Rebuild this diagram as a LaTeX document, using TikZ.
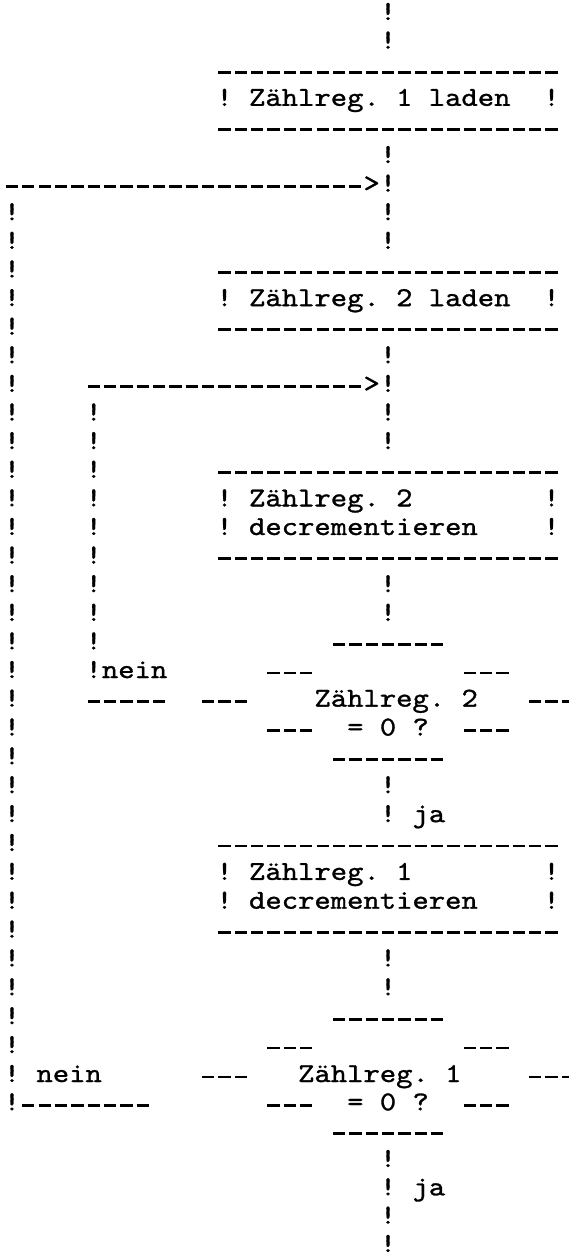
\documentclass[tikz,border=0pt]{standalone}
\usepackage{fontspec}
\newfontfamily\twfont{lmmono10-regular.otf}[FakeStretch=1.14, FakeBold=1.1]
\newlength\cw \setlength\cw{16.35pt}
\newcount\dcnt
\newcommand\dd{\makebox[\cw]{\rule[3.7pt]{12.3pt}{2.8pt}}}
\newcommand\D[1]{\dcnt=0 \loop\dd\advance\dcnt by 1 \ifnum\dcnt<#1\repeat}
% baselines of the typed rows (px from the top)
\def\RY{{20,48.61,77.22,105.83,134.44,163.05,191.66,220.27,248.88,277.49,306.10,334.71,363.32,391.93,420.54,449.15,477.76,506.37,534.98,563.59,592.20,620.81,649.42,678.03,706.64,735.51,764.38,793.25,822.12,850.99,879.86,908.73,937.60,966.47,995.34,1024.21,1053.08,1082,1110.33,1138.66,1166.99,1195.32,1223.65,1251.98}}
\newcommand\T[3]{\node[tw] (n#2x#1) at ({3.825+#1*16.35},{\RY[#2]}) {#3};}
\begin{document}
\begin{tikzpicture}[x=1pt,y=-1pt,
  tw/.style={anchor=base west, inner sep=0pt, outer sep=0pt,
    font=\twfont\fontsize{27.3pt}{28pt}\selectfont\frenchspacing}]
\fill[white] (0,0) rectangle (568,1256);
\useasboundingbox (0,0) rectangle (568,1256);
% row 0-1
\T{23}{0}{!}
\T{23}{1}{!}
% box 1
\T{13}{2}{\D{21}}
\T{13}{3}{!} \T{15}{3}{Zählreg. 1 laden} \T{33}{3}{!}
\T{13}{4}{\D{21}}
\T{23}{5}{!}
\T{0}{6}{\D{22}} \T{22}{6}{>} \T{23}{6}{!}
\T{0}{7}{!} \T{23}{7}{!}
\T{0}{8}{!} \T{23}{8}{!}
% box 2
\T{0}{9}{!} \T{13}{9}{\D{21}}
\T{0}{10}{!} \T{13}{10}{!} \T{15}{10}{Zählreg. 2 laden} \T{33}{10}{!}
\T{0}{11}{!} \T{13}{11}{\D{21}}
\T{0}{12}{!} \T{23}{12}{!}
\T{0}{13}{!} \T{5}{13}{\D{17}} \T{22}{13}{>} \T{23}{13}{!}
\T{0}{14}{!} \T{5}{14}{!} \T{23}{14}{!}
\T{0}{15}{!} \T{5}{15}{!} \T{23}{15}{!}
% box 3
\T{0}{16}{!} \T{5}{16}{!} \T{13}{16}{\D{21}}
\T{0}{17}{!} \T{5}{17}{!} \T{13}{17}{!} \T{15}{17}{Zählreg. 2} \T{33}{17}{!}
\T{0}{18}{!} \T{5}{18}{!} \T{13}{18}{!} \T{15}{18}{decrementieren} \T{33}{18}{!}
\T{0}{19}{!} \T{5}{19}{!} \T{13}{19}{\D{21}}
\T{0}{20}{!} \T{5}{20}{!} \T{23}{20}{!}
\T{0}{21}{!} \T{5}{21}{!} \T{23}{21}{!}
% decision 1
\T{0}{22}{!} \T{5}{22}{!} \T{20}{22}{\D{7}}
\T{0}{23}{!} \T{5}{23}{!nein} \T{16}{23}{\D{3}} \T{28}{23}{\D{3}}
\T{0}{24}{!} \T{5}{24}{\D{5}} \T{12}{24}{\D{3}} \T{19}{24}{Zählreg. 2} \T{32}{24}{\D{3}}
\T{0}{25}{!} \T{16}{25}{\D{3}} \T{21}{25}{= 0 ?} \T{28}{25}{\D{3}}
\T{0}{26}{!} \T{20}{26}{\D{7}}
\T{0}{27}{!} \T{23}{27}{!}
\T{0}{28}{!} \T{23}{28}{! ja}
% box 4
\T{0}{29}{!} \T{13}{29}{\D{21}}
\T{0}{30}{!} \T{13}{30}{!} \T{15}{30}{Zählreg. 1} \T{33}{30}{!}
\T{0}{31}{!} \T{13}{31}{!} \T{15}{31}{decrementieren} \T{33}{31}{!}
\T{0}{32}{!} \T{13}{32}{\D{21}}
\T{0}{33}{!} \T{23}{33}{!}
\T{0}{34}{!} \T{23}{34}{!}
% decision 2
\T{0}{35}{!} \T{20}{35}{\D{7}}
\T{0}{36}{!} \T{16}{36}{\D{3}} \T{28}{36}{\D{3}}
\T{0}{37}{! nein} \T{12}{37}{\D{3}} \T{18}{37}{Zählreg. 1} \T{32}{37}{\D{3}}
\T{0}{38}{!} \T{1}{38}{\D{8}} \T{16}{38}{\D{3}} \T{21}{38}{= 0 ?} \T{28}{38}{\D{3}}
\T{20}{39}{\D{7}}
\T{23}{40}{!}
\T{23}{41}{! ja}
\T{23}{42}{!}
\T{23}{43}{!}
\end{tikzpicture}
\end{document}
